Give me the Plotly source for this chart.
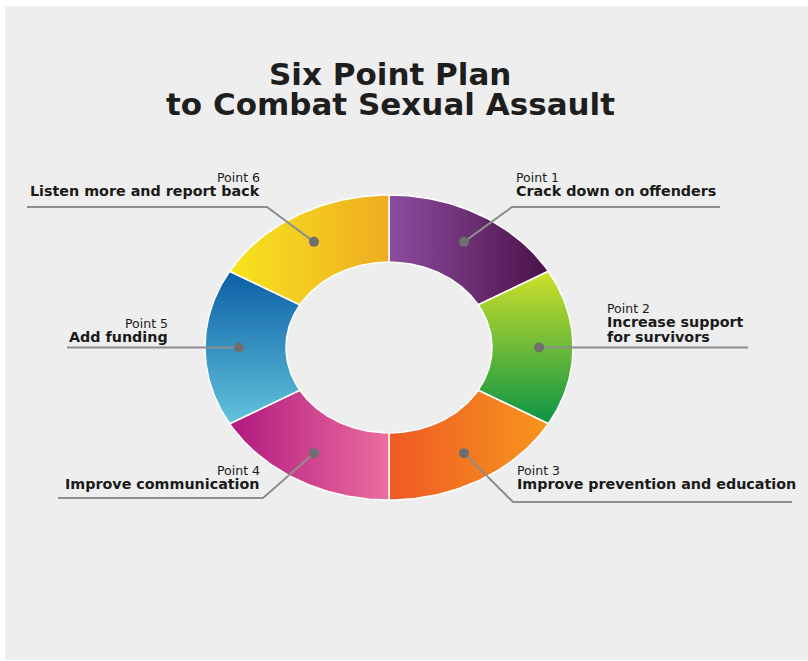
import numpy as np
import plotly.graph_objects as go

W, H = 808, 661

# ---------------- data ----------------
point_labels = ["Point 1", "Point 2", "Point 3", "Point 4", "Point 5", "Point 6"]
action_lines = [
    ["Crack down on offenders"],
    ["Increase support", "for survivors"],
    ["Improve prevention and education"],
    ["Improve communication"],
    ["Add funding"],
    ["Listen more and report back"],
]
values = [1, 1, 1, 1, 1, 1]

# gradient colours per slice (start, end) and direction
grad_start = ["#8d4c9f", "#cfe02a", "#ef5a25", "#b0187f", "#0b5fa5", "#f7e51d"]
grad_end = ["#4a1248", "#0a9446", "#f7961d", "#ec6e9e", "#62c3dc", "#efac22"]
grad_dir = ["horizontal", "vertical", "horizontal", "horizontal", "vertical", "horizontal"]

# ---------------- layout constants (pixels) ----------------
CX, CY = 389, 347.5
RXO, RYO = 184, 152.5
HOLE = 0.56
RXM, RYM = 150, 122

# label layout: side, text x, y of "Point" line, elbow (x, y), line end x
label_side = ["left", "left", "left", "right", "right", "right"]
label_x = [514, 605, 515, 262, 170, 262]
label_y = [177, 308, 470, 470, 323, 177]
elbow = [(512, 207), None, (513, 502), (263, 498), None, (267, 207)]
line_end_x = [720, 748, 792, 58, 67, 27]

LABEL_FONT = "DejaVu Sans"


def ty(yp):
    return H - yp


fig = go.Figure()

# background panel
fig.add_shape(type="rect", xref="x", yref="y", x0=5, x1=808, y0=ty(660), y1=ty(6),
              fillcolor="#eeeeee", line=dict(width=0), layer="below")

total = sum(values)
cum = np.cumsum([0] + values) / total * 2 * np.pi
dots = []
for i, v in enumerate(values):
    a0, a1 = cum[i], cum[i + 1]
    th = np.linspace(a0, a1, 60)
    xo = CX + RXO * np.sin(th)
    yo = CY - RYO * np.cos(th)
    xi = CX + RXO * HOLE * np.sin(th[::-1])
    yi = CY - RYO * HOLE * np.cos(th[::-1])
    xs = np.concatenate([xo, xi, xo[:1]])
    ys = ty(np.concatenate([yo, yi, yo[:1]]))
    if grad_dir[i] == "horizontal":
        fg = dict(type="horizontal", colorscale=[[0, grad_start[i]], [1, grad_end[i]]],
                  start=float(xs.min()), stop=float(xs.max()))
    else:
        fg = dict(type="vertical", colorscale=[[0, grad_end[i]], [1, grad_start[i]]],
                  start=float(ys.min()), stop=float(ys.max()))
    fig.add_trace(go.Scatter(x=xs, y=ys, mode="lines", fill="toself",
                             fillgradient=fg, line=dict(color="#ffffff", width=1.5),
                             hoverinfo="skip", showlegend=False))
    am = (a0 + a1) / 2
    dots.append((CX + RXM * np.sin(am), CY - RYM * np.cos(am)))

# leader lines
for i in range(len(values)):
    dx, dy = dots[i]
    if elbow[i] is None:
        px = [dx, line_end_x[i]]
        py = [dy, dy]
    else:
        ex, ey = elbow[i]
        px = [dx, ex, line_end_x[i]]
        py = [dy, ey, ey]
    fig.add_trace(go.Scatter(x=px, y=[ty(p) for p in py], mode="lines",
                             line=dict(color="#8e8e8e", width=2),
                             hoverinfo="skip", showlegend=False))

# dots
fig.add_trace(go.Scatter(x=[d[0] for d in dots], y=[ty(d[1]) for d in dots], mode="markers",
                         marker=dict(color="#6e6e6e", size=10),
                         hoverinfo="skip", showlegend=False))

# labels
for i in range(len(values)):
    xa = "left" if label_side[i] == "left" else "right"
    fig.add_annotation(x=label_x[i], y=ty(label_y[i]), text=point_labels[i],
                       xanchor=xa, yanchor="middle", showarrow=False,
                       font=dict(family=LABEL_FONT, size=12.5, color="#1a1a1a"))
    for j, t in enumerate(action_lines[i]):
        fig.add_annotation(x=label_x[i], y=ty(label_y[i] + 14 + 14.5 * j), text=t,
                           xanchor=xa, yanchor="middle", showarrow=False,
                           font=dict(family=LABEL_FONT, size=14.3, color="#1a1a1a", weight="bold"))

# title
title_lines = ["Six Point Plan", "to Combat Sexual Assault"]
title_y = [74, 104]
for t, yy in zip(title_lines, title_y):
    fig.add_annotation(x=390, y=ty(yy), text=t, xanchor="center", yanchor="middle",
                       showarrow=False,
                       font=dict(family=LABEL_FONT, size=31, color="#1e1e1e", weight="bold"))

fig.update_layout(
    width=W, height=H, margin=dict(l=0, r=0, t=0, b=0),
    paper_bgcolor="#ffffff", plot_bgcolor="rgba(0,0,0,0)",
    xaxis=dict(range=[0, W], visible=False, fixedrange=True),
    yaxis=dict(range=[0, H], visible=False, fixedrange=True),
)

fig.write_html("out.html")
